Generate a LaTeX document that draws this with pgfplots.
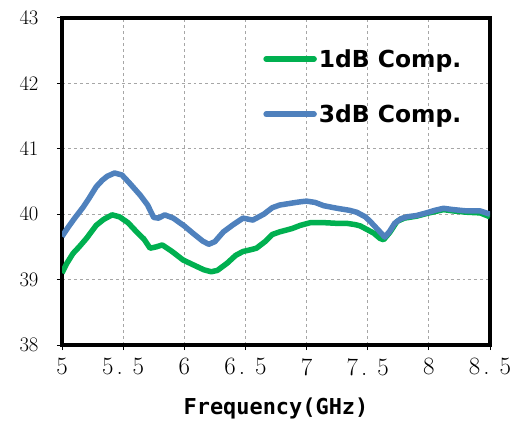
\documentclass[border=0pt]{standalone}
\usepackage{fontspec}
\usepackage{pgfplots}
\pgfplotsset{compat=1.18}
\newfontfamily\legfont{DejaVu Sans}
\newfontfamily\labfont{DejaVu Sans Mono}
\definecolor{cgreen}{HTML}{00B050}
\definecolor{cblue}{HTML}{4F81BD}
\begin{document}
\begin{tikzpicture}
\begin{axis}[
  scale only axis,
  width=428bp, height=327bp,
  xmin=5, xmax=8.5, ymin=38, ymax=43,
  xtick={5,5.5,6,6.5,7,7.5,8,8.5},
  xticklabels={5,{5\hspace{3bp}.\hspace{10bp}5},6,{6\hspace{3bp}.\hspace{10bp}5},7,{7\hspace{3bp}.\hspace{10bp}5},8,{8\hspace{3bp}.\hspace{10bp}5}},
  ytick={38,39,40,41,42,43},
  axis line style={line width=3.5bp},
  tick style={black, line width=1bp},
  tick align=outside,
  major tick length=5bp,
  xtick pos=bottom, ytick pos=left,
  grid=major,
  grid style={gray!70, dashed, line width=0.8bp},
  xticklabel style={font=\fontsize{25}{28}\selectfont, yshift=-5bp},
  yticklabel style={font=\fontsize{20.5}{24}\selectfont, xshift=-15bp},
  xlabel={\labfont\bfseries Frequency(GHz)},
  xlabel style={font=\fontsize{22}{26}\selectfont, yshift=-15bp},
  legend style={draw=none, fill=none, at={(rel axis cs:0.463,0.917)}, anchor=north west,
    font=\legfont\bfseries\fontsize{23.5}{28}\selectfont, row sep=32bp},
  legend cell align=left,
  legend image code/.code={\draw[#1, line cap=round] (0bp,0bp) -- (48bp,0bp);},
]
\addplot[cgreen, line width=5.5bp, line join=round] coordinates {
(5.00,39.10) (5.04,39.25) (5.09,39.40) (5.14,39.50) (5.20,39.63) (5.24,39.73) (5.28,39.83) (5.34,39.92) (5.41,39.99) (5.47,39.96) (5.54,39.87) (5.61,39.73) (5.67,39.62) (5.72,39.48) (5.77,39.50) (5.82,39.53) (5.90,39.43) (5.99,39.30) (6.08,39.22) (6.16,39.15) (6.22,39.12) (6.27,39.14) (6.35,39.25) (6.42,39.37) (6.48,39.43) (6.55,39.46) (6.59,39.48) (6.66,39.58) (6.72,39.69) (6.78,39.73) (6.88,39.78) (6.95,39.83) (7.03,39.87) (7.15,39.87) (7.25,39.86) (7.33,39.86) (7.40,39.84) (7.44,39.82) (7.50,39.76) (7.55,39.71) (7.60,39.63) (7.63,39.61) (7.68,39.72) (7.74,39.89) (7.80,39.94) (7.90,39.97) (7.98,40.01) (8.05,40.04) (8.12,40.07) (8.20,40.05) (8.31,40.03) (8.42,40.02) (8.50,39.96)
};
\addlegendentry{1dB Comp.}
\addplot[cblue, line width=5.5bp, line join=round] coordinates {
(5.00,39.66) (5.05,39.80) (5.10,39.93) (5.17,40.10) (5.22,40.24) (5.28,40.42) (5.33,40.52) (5.37,40.58) (5.43,40.63) (5.49,40.60) (5.55,40.48) (5.64,40.29) (5.70,40.14) (5.75,39.95) (5.79,39.94) (5.84,39.99) (5.91,39.94) (6.00,39.82) (6.07,39.71) (6.15,39.59) (6.20,39.54) (6.25,39.58) (6.32,39.73) (6.40,39.84) (6.48,39.94) (6.56,39.91) (6.65,40.00) (6.72,40.10) (6.78,40.14) (6.88,40.17) (6.95,40.19) (7.00,40.20) (7.07,40.18) (7.14,40.13) (7.25,40.09) (7.35,40.06) (7.41,40.03) (7.48,39.96) (7.52,39.89) (7.58,39.77) (7.64,39.65) (7.68,39.74) (7.72,39.86) (7.77,39.93) (7.82,39.96) (7.90,39.98) (7.98,40.02) (8.05,40.06) (8.12,40.09) (8.20,40.07) (8.31,40.05) (8.42,40.05) (8.50,40.00)
};
\addlegendentry{3dB Comp.}
\end{axis}
\pgfresetboundingbox
\useasboundingbox (-62bp,-78bp) rectangle (452bp,345bp);
\end{tikzpicture}
\end{document}
